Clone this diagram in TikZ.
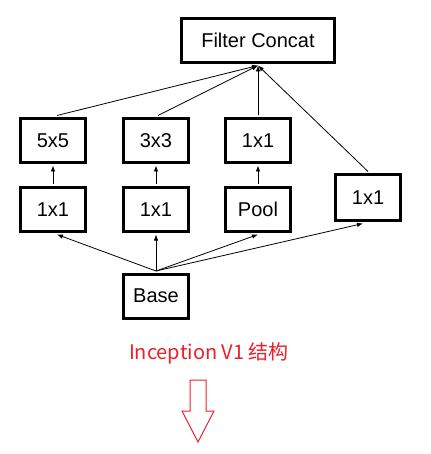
\documentclass[tikz,border=0pt]{standalone}
\usepackage{fontspec}
\setmainfont{Liberation Sans}
\newfontfamily\cjk{Noto Sans CJK SC}
\usetikzlibrary{arrows.meta}
\definecolor{capred}{RGB}{236,32,40}
\tikzset{
  blk/.style={draw=black, line width=3pt, fill=white, inner sep=0pt,
    minimum width=65pt, minimum height=44pt, font=\fontsize{20}{23}\selectfont},
  conn/.style={line width=0.8pt, -{Latex[length=6pt,width=4.5pt]}}
}
\begin{document}
\begin{tikzpicture}[x=1pt,y=-1pt]
\useasboundingbox[fill=white] (0,0) rectangle (430,454);
\node[blk, minimum width=153pt] (fc) at (258,40.5) {Filter Concat};
\node[blk] (a5) at (53,140.5) {5x5};
\node[blk] (a3) at (156,140.5) {3x3};
\node[blk] (a1) at (258,140.5) {1x1};
\node[blk] (b1) at (53,209.5) {1x1};
\node[blk] (b2) at (156,209.5) {1x1};
\node[blk] (bp) at (258,209.5) {Pool};
\node[blk, minimum height=46pt] (r1) at (368,197.5) {1x1};
\node[blk] (base) at (156,296) {Base};
\coordinate (fcin) at ([yshift=-1.5pt]fc.south);
\coordinate (basetop) at ([yshift=1.5pt]base.north);
\draw[conn] ([xshift=4pt,yshift=1.5pt]a5.north) -- (fcin);
\draw[conn] ([xshift=2pt,yshift=1.5pt]a3.north) -- (fcin);
\draw[conn] ([yshift=1.5pt]a1.north) -- (fcin);
\draw[conn] ([yshift=1.5pt]r1.north) -- (fcin);
\draw[conn] ([yshift=1.5pt]b1.north) -- ([yshift=-1.5pt]a5.south);
\draw[conn] ([yshift=1.5pt]b2.north) -- ([yshift=-1.5pt]a3.south);
\draw[conn] ([yshift=1.5pt]bp.north) -- ([yshift=-1.5pt]a1.south);
\draw[conn] (basetop) -- ([xshift=4pt,yshift=-1.5pt]b1.south);
\draw[conn] (basetop) -- ([yshift=-1.5pt]b2.south);
\draw[conn] (basetop) -- ([yshift=-1.5pt]bp.south);
\draw[conn] (basetop) -- ([xshift=-5pt,yshift=-1.5pt]r1.south);
\node[text=capred, font=\cjk\fontsize{20}{24}\selectfont] (cap) at (209,353) {Inception V1 结构};
\draw[capred, line width=1pt] (190,380) -- (206,380) -- (206,411) -- (214,411) -- (198,442) -- (182,411) -- (190,411) -- cycle;
\end{tikzpicture}
\end{document}
